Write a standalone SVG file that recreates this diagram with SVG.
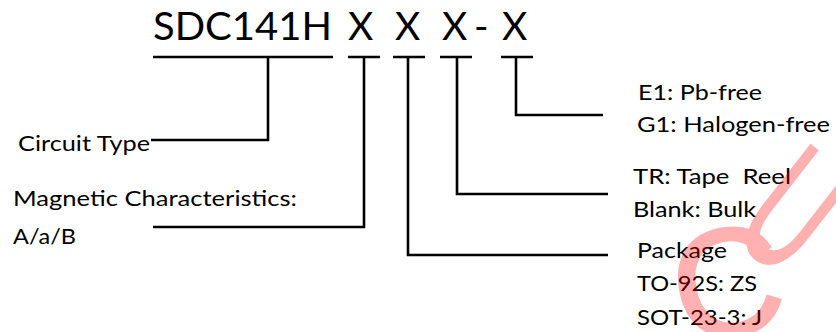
<svg xmlns="http://www.w3.org/2000/svg" width="836" height="332" viewBox="0 0 836 332">
<style>
  .t { font-family: Lato, "Liberation Sans", sans-serif; fill: #000; }
  .title { font-size: 39px; }
  .lbl { font-size: 21.5px; }
  .ln { fill: none; stroke: #000; stroke-width: 2.6; stroke-linecap: butt; stroke-linejoin: miter; }
  .wm { font-family: "Liberation Sans", sans-serif; fill: #ff0000; stroke: #ff0000; stroke-width: 3; text-anchor: middle; }
</style>
<rect width="836" height="332" fill="#fff"/>
<g id="title">
  <text class="t title" y="40"><tspan x="153" textLength="179" lengthAdjust="spacingAndGlyphs">SDC141H</tspan><tspan x="348">X</tspan><tspan x="395">X</tspan><tspan x="442">X</tspan><tspan x="474">-</tspan><tspan x="502">X</tspan></text>
</g>
<g id="connectors">
  <path class="ln" d="M153,57 H333 M268,57 V140 H151"/>
  <path class="ln" d="M348,57 H380 M364,57 V227 H153"/>
  <path class="ln" d="M393,57 H425 M408,57 V255 H608"/>
  <path class="ln" d="M440,57 H472 M457,57 V194 H608"/>
  <path class="ln" d="M501,57 H533 M516,57 V115 H603"/>
</g>
<g id="circuit-type">
  <text class="t lbl" x="18" y="150.5" textLength="132" lengthAdjust="spacingAndGlyphs">Circuit Type</text>
</g>
<g id="magnetic">
  <text class="t lbl" x="13" y="206" textLength="284" lengthAdjust="spacingAndGlyphs">Magnetic Characteristics:</text>
  <text class="t lbl" x="13" y="244" textLength="63" lengthAdjust="spacingAndGlyphs">A/a/B</text>
</g>
<g id="package">
  <text class="t lbl" x="637" y="258" textLength="90" lengthAdjust="spacingAndGlyphs">Package</text>
  <text class="t lbl" x="637" y="291" textLength="120" lengthAdjust="spacingAndGlyphs">TO-92S: ZS</text>
  <text class="t lbl" x="637" y="325" textLength="125" lengthAdjust="spacingAndGlyphs">SOT-23-3: J</text>
</g>
<g id="packing">
  <text class="t lbl" x="633" y="184" textLength="158" lengthAdjust="spacingAndGlyphs" xml:space="preserve">TR: Tape  Reel</text>
  <text class="t lbl" x="633" y="217" textLength="123" lengthAdjust="spacingAndGlyphs">Blank: Bulk</text>
</g>
<g id="environment">
  <text class="t lbl" x="638" y="100" textLength="124" lengthAdjust="spacingAndGlyphs">E1: Pb-free</text>
  <text class="t lbl" x="637" y="132" textLength="193" lengthAdjust="spacingAndGlyphs">G1: Halogen-free</text>
</g>
<g id="watermark" opacity="0.3">
  <text class="wm" font-size="152" transform="translate(727,281) rotate(-10)" y="54">C</text>
  <text class="wm" font-size="176" transform="translate(796,208) rotate(38) scale(0.55,1)" y="63">U</text>
</g>
</svg>
